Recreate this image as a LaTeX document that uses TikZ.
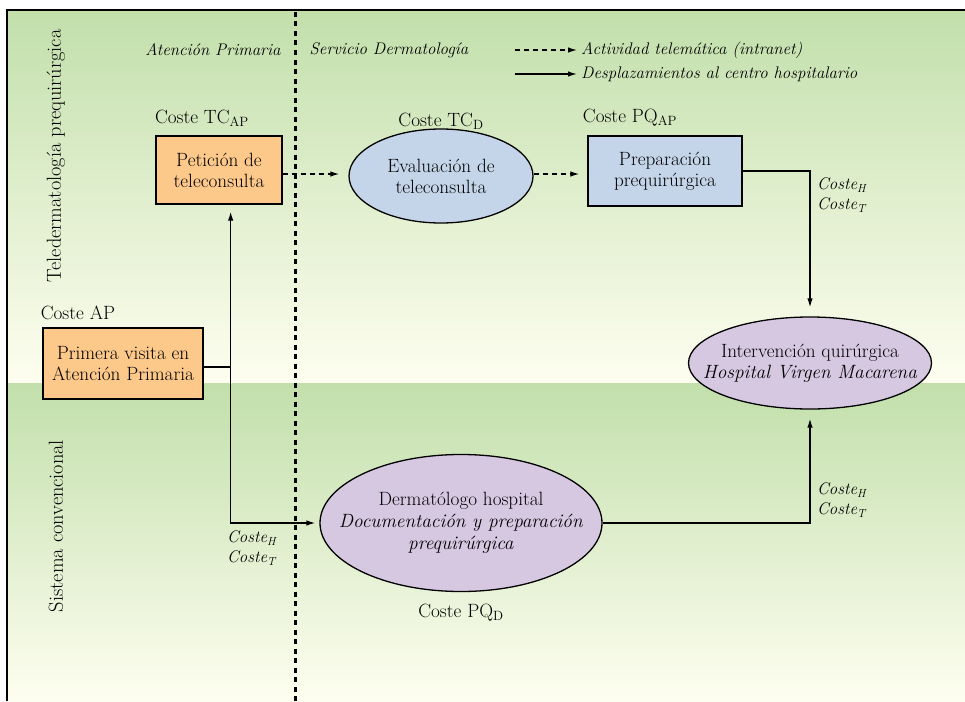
\documentclass[tikz,border=0pt]{standalone}
\usetikzlibrary{arrows.meta,shapes.geometric,calc}
\definecolor{bandgreen}{HTML}{C2DFAB}
\definecolor{bandcream}{HTML}{FEFEF0}
\definecolor{orangefill}{HTML}{FDC98A}
\definecolor{bluefill}{HTML}{C5D5E9}
\definecolor{lavfill}{HTML}{D7C8E2}
\tikzset{
  base/.style={font=\fontsize{19.2}{21}\selectfont, align=center, inner sep=0pt},
  boxnode/.style={base, draw=black, line width=1.3pt, rectangle},
  ellnode/.style={base, draw=black, line width=1.3pt, ellipse, inner xsep=-70pt, inner ysep=-12pt},
  label/.style={font=\fontsize{19.2}{21}\selectfont, inner sep=0pt},
  sidelabel/.style={font=\fontsize{20.3}{21}\selectfont, inner sep=0pt},
  itlabel/.style={font=\fontsize{16.8}{20}\selectfont\itshape, inner sep=0pt, align=left},
  conn/.style={line width=1.3pt, -{Latex[length=9pt,width=5.5pt]}},
  tele/.style={conn, dash pattern=on 5pt off 4pt},
}
\begin{document}
\begin{tikzpicture}[x=1pt,y=-1pt]
\useasboundingbox (0,0) rectangle (965,701);
% background bands
\shade[top color=bandgreen, bottom color=bandcream] (7,10) rectangle (965,383);
\shade[top color=bandgreen, bottom color=bandcream] (7,383) rectangle (965,701);
\draw[line width=2pt] (965,10) -- (7,10) -- (7,701);
% divider
\draw[line width=3pt, dash pattern=on 5pt off 4.5pt] (295,12) -- (295,701);
% side labels
\node[sidelabel, rotate=90] (tlab) at (56,156) {Teledermatología prequirúrgica};
\node[sidelabel, rotate=90] (slab) at (56,526) {Sistema convencional};
% headings
\node[itlabel] (hap) at (213,50) {Atención Primaria};
\node[itlabel] (hsd) at (389,50) {Servicio Dermatología};
% legend
\coordinate (l1a) at (515,50); \coordinate (l1b) at (577,50);
\coordinate (l2a) at (515,74); \coordinate (l2b) at (577,74);
\draw[tele] (l1a) -- (l1b);
\draw[conn] (l2a) -- (l2b);
\node[itlabel, anchor=west] (lt1) at (581,50) {Actividad telemática (intranet)};
\node[itlabel, anchor=west] (lt2) at (581,74) {Desplazamientos al centro hospitalario};
% nodes
\node[boxnode, fill=orangefill, minimum width=126pt, minimum height=68pt] (pet) at (219,170) {Petición de\\teleconsulta};
\node[boxnode, fill=orangefill, minimum width=160pt, minimum height=71pt] (prim) at (123,363.5) {Primera visita en\\Atención Primaria};
\node[ellnode, fill=bluefill, minimum width=184pt, minimum height=94pt] (eval) at (441,176) {Evaluación de\\teleconsulta};
\node[boxnode, fill=bluefill, minimum width=154pt, minimum height=70pt] (prep) at (665,171) {Preparación\\prequirúrgica};
\node[ellnode, fill=lavfill, minimum width=243pt, minimum height=92pt] (interv) at (810,363) {Intervención quirúrgica\\\textit{Hospital Virgen Macarena}};
\node[ellnode, fill=lavfill, minimum width=282pt, minimum height=137pt, font=\fontsize{19.2}{22}\selectfont] (derm) at (461,523) {Dermatólogo hospital\\\textit{Documentación y preparación}\\\textit{prequirúrgica}};
% cost labels
\node[label] (cpet) at (202,118) {Coste TC\textsubscript{AP}};
\node[label] (ceval) at (441,121) {Coste TC\textsubscript{D}};
\node[label] (cprep) at (630,118) {Coste PQ\textsubscript{AP}};
\node[label] (cprim) at (78,313) {Coste AP};
\node[label] (cderm) at (461,613) {Coste PQ\textsubscript{D}};
\node[itlabel, anchor=west] (ht1) at (817,195) {Coste\textsubscript{\itshape H}\\Coste\textsubscript{\itshape T}};
\node[itlabel, anchor=west] (ht2) at (817,500) {Coste\textsubscript{\itshape H}\\Coste\textsubscript{\itshape T}};
\node[itlabel, anchor=west] (ht3) at (227,548) {Coste\textsubscript{\itshape H}\\Coste\textsubscript{\itshape T}};
% connectors
\draw[tele, shorten >=9pt] ($(pet.east)+(0,4)$) -- ($(eval.west)+(0,-2)$);
\draw[tele, shorten >=8pt] ($(eval.east)+(0,-2)$) -- ($(prep.west)+(0,3)$);
\draw[conn, shorten >=9pt] (prep.east) -| (interv.north);
\draw[conn, shorten >=9pt] (derm.east) -| (interv.south);
\coordinate (j) at ($(prim.east)+(27,3.5)$);
\draw[line width=1.3pt] ($(prim.east)+(0,3.5)$) -- (j);
\draw[conn, shorten >=7pt] (j) -- (j |- pet.south);
\draw[conn, shorten >=4pt] (j) |- (derm.west);
\end{tikzpicture}
\end{document}
